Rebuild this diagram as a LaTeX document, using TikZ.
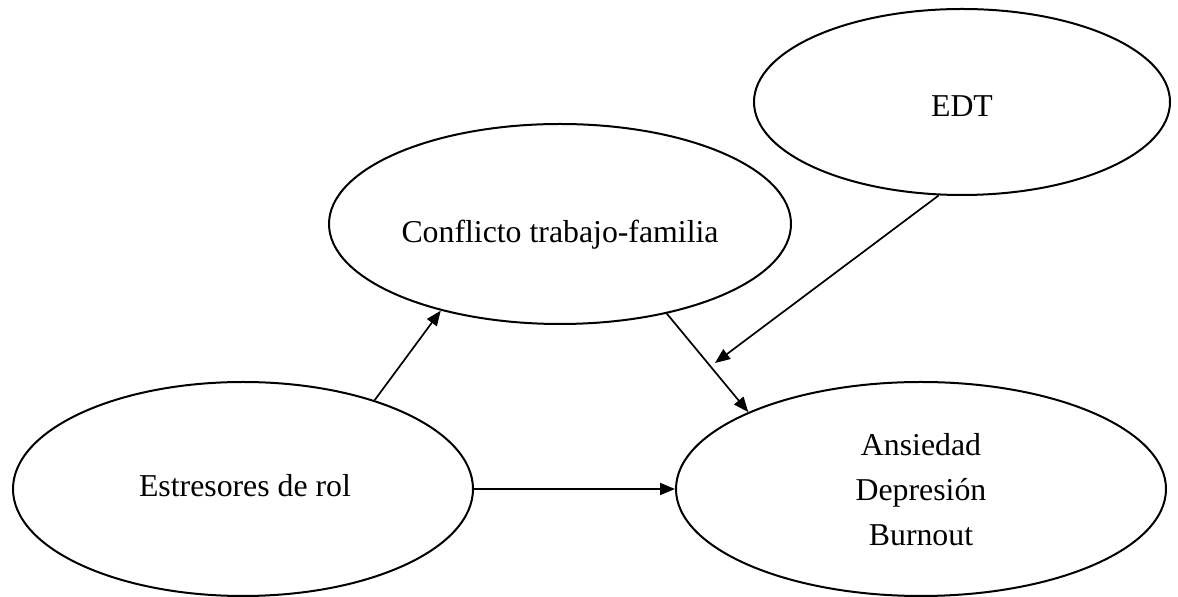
\documentclass[tikz,border=0pt]{standalone}
\usepackage{fontspec}
\setmainfont{Liberation Serif}
\usetikzlibrary{shapes.geometric,arrows.meta}
\begin{document}
\begin{tikzpicture}[x=0.5pt,y=-0.5pt,
  oval/.style={draw,ellipse,line width=1pt,inner sep=0pt},
  txt/.style={font=\fontsize{15.9}{22.5}\selectfont,align=center,inner sep=0pt},
  link/.style={line width=0.85pt,-{Triangle[length=7.5pt,width=6pt]}}]
\useasboundingbox (0,0) rectangle (1178,597);

% variables
\node[oval,minimum width=230pt,minimum height=107pt] (estr) at (243,489) {};
\node[oval,minimum width=231pt,minimum height=100pt] (conf) at (560,224) {};
\node[oval,minimum width=208pt,minimum height=93pt]  (edt)  at (962,102) {};
\node[oval,minimum width=245pt,minimum height=107pt] (ans)  at (921,489) {};

% labels
\node[txt,anchor=base] (estrlbl) at (245,497) {Estresores de rol};
\node[txt,anchor=base] (conflbl) at (560,243) {Conflicto trabajo-familia};
\node[txt,anchor=base] (edtlbl)  at (962,117) {EDT};
\node[txt,anchor=center] (anslbl) at (921,490) {Ansiedad\\Depresión\\Burnout};

% paths
\coordinate (edtend) at (715,363);
\draw[link] (estr.34.4) -- (conf.216.6);
\draw[link] (conf.320.4) -- (ans.156.4);
\draw[link] (edt.256.6) -- (edtend);
\draw[link] (estr.east) -- (ans.west);
\end{tikzpicture}
\end{document}
